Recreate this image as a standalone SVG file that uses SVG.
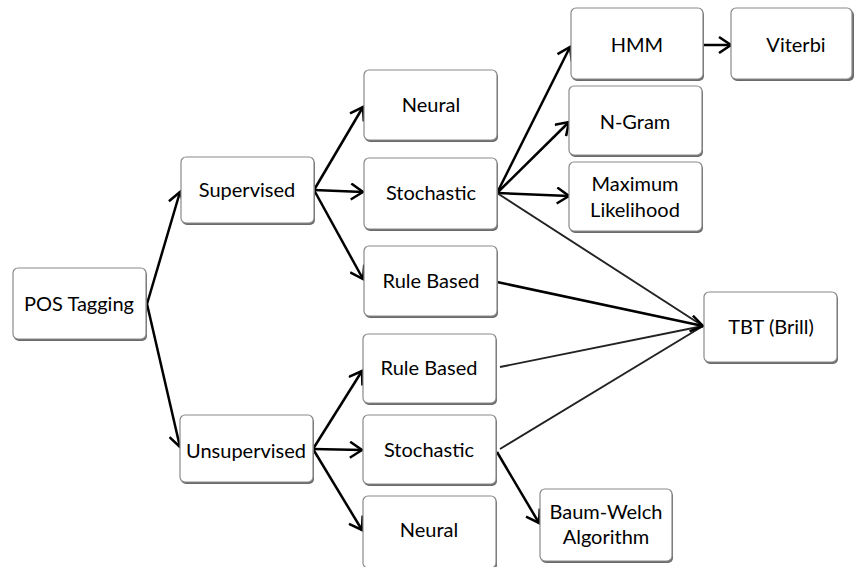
<svg xmlns="http://www.w3.org/2000/svg" width="854" height="567" viewBox="0 0 854 567">
  <style>
    .box { fill: #ffffff; stroke: #8a8a8a; stroke-width: 1.2; }
    .shadow { fill: #6a6a6a; }
    .lbl { font-family: Lato, "Liberation Sans", sans-serif; font-size: 20px; fill: #000; text-anchor: middle; }
    .edge { fill: none; stroke: #000; stroke-width: 2.5; }
    .thin { fill: none; stroke: #222; stroke-width: 1.9; }
  </style>
  <defs>
    <marker id="arrow" markerUnits="userSpaceOnUse" markerWidth="16" markerHeight="18" refX="13" refY="9" orient="auto">
      <path d="M1,1 L13,9 L1,17" fill="none" stroke="#000" stroke-width="2.5"/>
    </marker>
  </defs>

  <rect width="854" height="567" fill="#ffffff"/>

  <!-- connectors -->
  <g id="connectors">
    <line class="edge" x1="147" y1="304" x2="180" y2="192" marker-end="url(#arrow)"/>
    <line class="edge" x1="147" y1="304" x2="180" y2="447" marker-end="url(#arrow)"/>
    <line class="edge" x1="314" y1="190" x2="363" y2="107" marker-end="url(#arrow)"/>
    <line class="edge" x1="314" y1="190" x2="363" y2="192" marker-end="url(#arrow)"/>
    <line class="edge" x1="314" y1="190" x2="363" y2="279" marker-end="url(#arrow)"/>
    <line class="edge" x1="313" y1="449" x2="362" y2="371" marker-end="url(#arrow)"/>
    <line class="edge" x1="313" y1="449" x2="362" y2="450" marker-end="url(#arrow)"/>
    <line class="edge" x1="313" y1="449" x2="362" y2="530" marker-end="url(#arrow)"/>
    <line class="edge" x1="497" y1="193" x2="570" y2="47" marker-end="url(#arrow)"/>
    <line class="edge" x1="497" y1="193" x2="569" y2="122" marker-end="url(#arrow)"/>
    <line class="edge" x1="497" y1="193" x2="569" y2="196" marker-end="url(#arrow)"/>
    <line class="edge" x1="703" y1="45" x2="731" y2="45" marker-end="url(#arrow)"/>
    <line class="thin" x1="497" y1="193" x2="703" y2="326"/>
    <line class="thin" x1="500" y1="367" x2="703" y2="326"/>
    <line class="thin" x1="500" y1="449" x2="703" y2="326"/>
    <line class="edge" x1="497" y1="282" x2="703" y2="326" marker-end="url(#arrow)"/>
    <line class="edge" x1="497" y1="452" x2="539" y2="523" marker-end="url(#arrow)"/>
  </g>

  <!-- nodes -->
  <g id="pos-tagging">
    <rect class="shadow" x="14" y="270" width="133" height="71" rx="5"/>
    <rect class="box" x="13" y="268" width="133" height="71" rx="5"/>
    <text class="lbl" x="79" y="311">POS Tagging</text>
  </g>
  <g id="supervised">
    <rect class="shadow" x="182" y="159" width="133" height="66" rx="5"/>
    <rect class="box" x="181" y="157" width="133" height="66" rx="5"/>
    <text class="lbl" x="247" y="197">Supervised</text>
  </g>
  <g id="unsupervised">
    <rect class="shadow" x="181" y="417" width="133" height="67" rx="5"/>
    <rect class="box" x="180" y="415" width="133" height="67" rx="5"/>
    <text class="lbl" x="246" y="458">Unsupervised</text>
  </g>
  <g id="sup-neural">
    <rect class="shadow" x="365" y="72" width="133" height="70" rx="5"/>
    <rect class="box" x="364" y="70" width="133" height="70" rx="5"/>
    <text class="lbl" x="431" y="112">Neural</text>
  </g>
  <g id="sup-stochastic">
    <rect class="shadow" x="365" y="160" width="133" height="71" rx="5"/>
    <rect class="box" x="364" y="158" width="133" height="71" rx="5"/>
    <text class="lbl" x="431" y="200">Stochastic</text>
  </g>
  <g id="sup-rule-based">
    <rect class="shadow" x="365" y="248" width="133" height="70" rx="5"/>
    <rect class="box" x="364" y="246" width="133" height="70" rx="5"/>
    <text class="lbl" x="431" y="288">Rule Based</text>
  </g>
  <g id="unsup-rule-based">
    <rect class="shadow" x="364" y="336" width="133" height="69" rx="5"/>
    <rect class="box" x="363" y="334" width="133" height="69" rx="5"/>
    <text class="lbl" x="429" y="375">Rule Based</text>
  </g>
  <g id="unsup-stochastic">
    <rect class="shadow" x="364" y="417" width="133" height="69" rx="5"/>
    <rect class="box" x="363" y="415" width="133" height="69" rx="5"/>
    <text class="lbl" x="429" y="457">Stochastic</text>
  </g>
  <g id="unsup-neural">
    <rect class="shadow" x="364" y="498" width="133" height="72" rx="5"/>
    <rect class="box" x="363" y="496" width="133" height="72" rx="5"/>
    <text class="lbl" x="429" y="537">Neural</text>
  </g>
  <g id="hmm">
    <rect class="shadow" x="572" y="10" width="132" height="71" rx="5"/>
    <rect class="box" x="571" y="8" width="132" height="71" rx="5"/>
    <text class="lbl" x="637" y="52">HMM</text>
  </g>
  <g id="viterbi">
    <rect class="shadow" x="732" y="10" width="122" height="71" rx="5"/>
    <rect class="box" x="731" y="8" width="121" height="71" rx="5"/>
    <text class="lbl" x="796" y="52">Viterbi</text>
  </g>
  <g id="n-gram">
    <rect class="shadow" x="570" y="88" width="133" height="69" rx="5"/>
    <rect class="box" x="569" y="86" width="133" height="69" rx="5"/>
    <text class="lbl" x="635" y="129">N-Gram</text>
  </g>
  <g id="maximum-likelihood">
    <rect class="shadow" x="570" y="164" width="133" height="69" rx="5"/>
    <rect class="box" x="569" y="162" width="133" height="69" rx="5"/>
    <text class="lbl" x="635" y="191">Maximum</text>
    <text class="lbl" x="635" y="217">Likelihood</text>
  </g>
  <g id="tbt-brill">
    <rect class="shadow" x="705" y="294" width="133" height="70" rx="5"/>
    <rect class="box" x="704" y="292" width="133" height="70" rx="5"/>
    <text class="lbl" x="771" y="334">TBT (Brill)</text>
  </g>
  <g id="baum-welch">
    <rect class="shadow" x="541" y="491" width="132" height="72" rx="5"/>
    <rect class="box" x="540" y="489" width="132" height="72" rx="5"/>
    <text class="lbl" x="606" y="519">Baum-Welch</text>
    <text class="lbl" x="606" y="544">Algorithm</text>
  </g>
</svg>
